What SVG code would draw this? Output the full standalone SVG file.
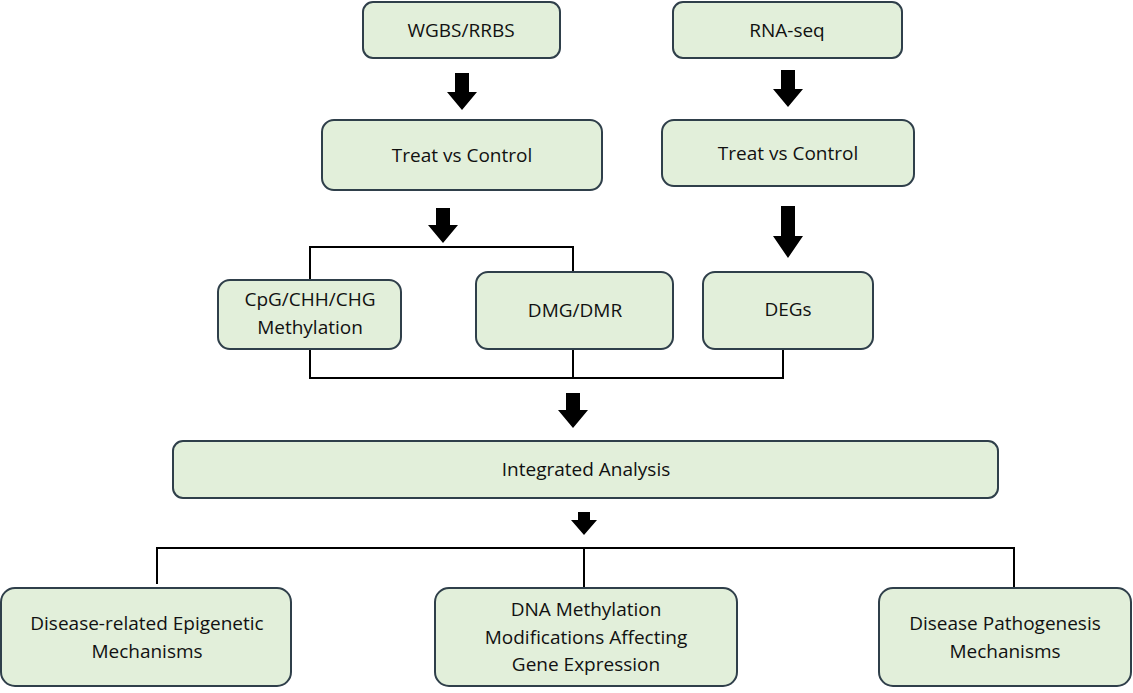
<svg xmlns="http://www.w3.org/2000/svg" width="1133" height="693" viewBox="0 0 1133 693">
<style>
.box{fill:#e2efda;stroke:#2f3f4a;stroke-width:2}
.t{font-family:"Open Sans","Liberation Sans",sans-serif;font-size:19px;fill:#111;text-anchor:middle}
.ln{stroke:#000;stroke-width:2;fill:none}
.ar{fill:#000}
</style>
<rect width="1133" height="693" fill="#fff"/>
<g id="connectors">
<polygon class="ar" points="455,73 469,73 469,92 477,92 462,110 447,92 455,92"/>
<polygon class="ar" points="781,70 795,70 795,89 803,89 788,107 773,89 781,89"/>
<polygon class="ar" points="436,208 450,208 450,225 458,225 443,243 428,225 436,225"/>
<polygon class="ar" points="781,206 795,206 795,236 803,236 788,258 773,236 781,236"/>
<polyline class="ln" points="310,280 310,247 573,247 573,272"/>
<polyline class="ln" points="310,349 310,378 783,378 783,349"/>
<line class="ln" x1="573" y1="349" x2="573" y2="378"/>
<polygon class="ar" points="566,393 580,393 580,410 588,410 573,428 558,410 566,410"/>
<polygon class="ar" points="578,512 590,512 590,520 597,520 584,535 571,520 578,520"/>
<polyline class="ln" points="157,584 157,548 1014,548 1014,587"/>
<line class="ln" x1="584" y1="548" x2="584" y2="588"/>
</g>
<g id="wgbs"><rect class="box" x="363" y="2" width="197" height="56" rx="10"/><text class="t" x="461" y="37">WGBS/RRBS</text></g>
<g id="rnaseq"><rect class="box" x="673" y="2" width="229" height="56" rx="10"/><text class="t" x="787" y="37">RNA-seq</text></g>
<g id="treat1"><rect class="box" x="322" y="120" width="280" height="70" rx="12"/><text class="t" x="462" y="162">Treat vs Control</text></g>
<g id="treat2"><rect class="box" x="662" y="120" width="252" height="66" rx="12"/><text class="t" x="788" y="160">Treat vs Control</text></g>
<g id="cpg"><rect class="box" x="218" y="280" width="183" height="69" rx="12"/><text class="t" x="310" y="306">CpG/CHH/CHG</text><text class="t" x="310" y="334">Methylation</text></g>
<g id="dmg"><rect class="box" x="476" y="272" width="197" height="77" rx="12"/><text class="t" x="575" y="317">DMG/DMR</text></g>
<g id="degs"><rect class="box" x="703" y="272" width="170" height="77" rx="12"/><text class="t" x="788" y="316">DEGs</text></g>
<g id="integrated"><rect class="box" x="173" y="441" width="825" height="57" rx="10"/><text class="t" x="586" y="476">Integrated Analysis</text></g>
<g id="disease1"><rect class="box" x="1" y="588" width="290" height="98" rx="14"/><text class="t" x="147" y="630">Disease-related Epigenetic</text><text class="t" x="147" y="658">Mechanisms</text></g>
<g id="dnameth"><rect class="box" x="435" y="588" width="302" height="98" rx="14"/><text class="t" x="586" y="616">DNA Methylation</text><text class="t" x="586" y="644">Modifications Affecting</text><text class="t" x="586" y="671">Gene Expression</text></g>
<g id="disease2"><rect class="box" x="879" y="588" width="252" height="98" rx="14"/><text class="t" x="1005" y="630">Disease Pathogenesis</text><text class="t" x="1005" y="658">Mechanisms</text></g>
</svg>
